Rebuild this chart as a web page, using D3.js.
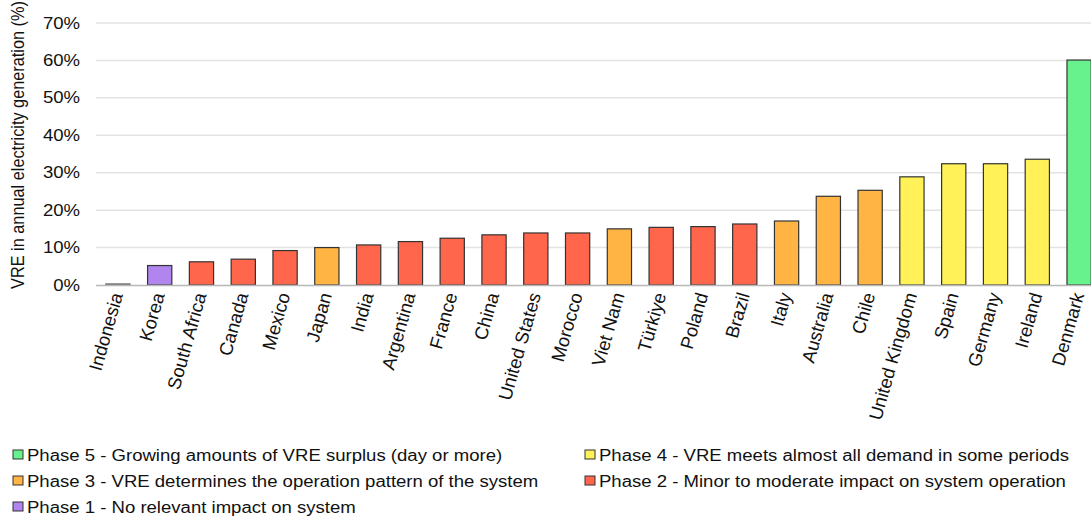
<!DOCTYPE html>
<html><head><meta charset="utf-8">
<script src="https://cdn.jsdelivr.net/npm/d3@7/dist/d3.min.js"></script>
<style>body{margin:0;background:#fff}svg{display:block;font-family:"Liberation Sans",Arial,sans-serif}</style>
</head><body><svg id="c" width="1091" height="520"></svg>
<script>
const countries = ["Indonesia","Korea","South Africa","Canada","Mexico","Japan","India","Argentina","France","China","United States","Morocco","Viet Nam","Türkiye","Poland","Brazil","Italy","Australia","Chile","United Kingdom","Spain","Germany","Ireland","Denmark"];
const values = [0.3,5.2,6.2,6.9,9.2,10.0,10.7,11.6,12.5,13.4,13.9,13.9,15.0,15.4,15.6,16.3,17.1,23.7,25.3,28.9,32.4,32.4,33.6,60.1];
const phases = [1,1,2,2,2,3,2,2,2,2,2,2,3,2,2,2,3,3,3,4,4,4,4,5];
const yTicks = [0,10,20,30,40,50,60,70];
const phaseColors = {1:"#b085ee",2:"#ff664b",3:"#ffb443",4:"#fff157",5:"#68f28e"};
const legendItems = [
  {p:5,t:"Phase 5 - Growing amounts of VRE surplus (day or more)"},
  {p:4,t:"Phase 4 - VRE meets almost all demand in some periods"},
  {p:3,t:"Phase 3 - VRE determines the operation pattern of the system"},
  {p:2,t:"Phase 2 - Minor to moderate impact on system operation"},
  {p:1,t:"Phase 1 - No relevant impact on system"}
];

const SX = 1.16; // horizontal text stretch seen in the reference
const svg = d3.select("#c");
const x = d3.scaleBand().domain(countries).range([97,1100]).paddingInner(0.42).paddingOuter(0.21);
const y = d3.scaleLinear().domain([0,70]).range([285,23]);

// gridlines
svg.append("g").selectAll("line").data(yTicks.filter(d=>d>0)).join("line")
  .attr("x1",96).attr("x2",1091).attr("y1",d=>y(d)).attr("y2",d=>y(d))
  .attr("stroke","#e3e3e3").attr("stroke-width",1.5);

// y tick labels
svg.append("g").selectAll("text").data(yTicks).join("text")
  .attr("transform",d=>`translate(80,${y(d)}) scale(${SX},1)`)
  .attr("dy","0.35em").attr("text-anchor","end")
  .attr("font-size",16).attr("fill","#111").text(d=>d+"%");

// y title
svg.append("text").attr("transform",`translate(24,145) scale(${SX},1) rotate(-90)`)
  .attr("text-anchor","middle").attr("font-size",16.3).attr("fill","#111")
  .text("VRE in annual electricity generation (%)");

// bars
svg.append("g").selectAll("rect").data(countries).join("rect")
  .attr("x",d=>x(d)).attr("width",x.bandwidth())
  .attr("y",(d,i)=>y(values[i])).attr("height",(d,i)=>y(0)-y(values[i]))
  .attr("fill",(d,i)=>phaseColors[phases[i]])
  .attr("stroke",(d,i)=>i===0?"#777":"#333").attr("stroke-width",1.2);

// baseline
svg.append("line").attr("x1",96).attr("x2",1091).attr("y1",y(0)+0.5).attr("y2",y(0)+0.5)
  .attr("stroke","#b8b8b8").attr("stroke-width",1.5);

// x labels
svg.append("g").selectAll("text").data(countries).join("text")
  .attr("transform",d=>`translate(${x(d)+x.bandwidth()/2-1},293) rotate(-74)`)
  .attr("text-anchor","end").attr("dy","0.35em")
  .attr("font-size",18.5).attr("fill","#111").text(d=>d);

// legend
const lg = svg.append("g");
legendItems.forEach((it,i)=>{
  const col = i%2, row = Math.floor(i/2);
  const lx = col===0?13:585, ly = 455+row*26;
  lg.append("rect").attr("x",lx).attr("y",ly-5).attr("width",10).attr("height",9)
    .attr("fill",phaseColors[it.p]).attr("stroke","#333").attr("stroke-width",1);
  lg.append("text").attr("transform",`translate(${lx+14},${ly}) scale(${SX},1)`)
    .attr("dy","0.35em")
    .attr("font-size",16).attr("fill","#111").text(it.t);
});
</script></body></html>
